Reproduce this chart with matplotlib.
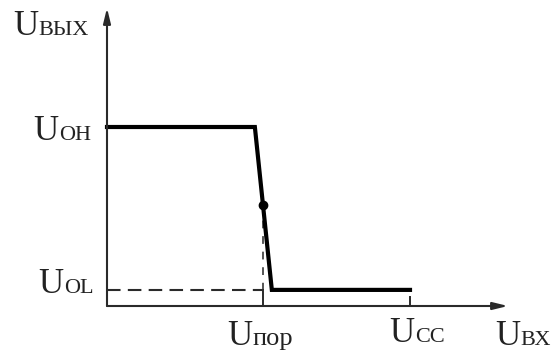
import matplotlib
matplotlib.use('Agg')
import matplotlib.pyplot as plt

plt.rcParams['font.family'] = ['Liberation Serif', 'DejaVu Serif']

# characteristic of the inverter (arbitrary units)
u_in = [0.0, 2.44, 2.72, 5.0]
u_out = [4.0, 4.0, 0.36, 0.36]
U_OH = 4.0
U_OL = 0.36
U_por = 2.57
U_por_out = 2.26
U_CC = 5.0

# pixel scale of the reference
sx = 60.6
sy = 44.75
x0, y0 = 107, 306
W, H = 551, 362

fig = plt.figure(figsize=(W / 100, H / 100), dpi=100)
ax = fig.add_axes([0, 0, 1, 1])
ax.set_xlim(-x0 / sx, (W - x0) / sx)
ax.set_ylim(-(H - y0) / sy, y0 / sy)
ax.axis('off')

axis_col = '#2a2a2a'
# axes with arrows
ax.annotate('', xy=(0, (y0 - 8) / sy), xytext=(0, 0),
            arrowprops=dict(arrowstyle='-|>,head_length=0.9,head_width=0.22',
                            lw=1.5, color=axis_col, shrinkA=0, shrinkB=0))
ax.annotate('', xy=((508 - x0) / sx, 0), xytext=(0, 0),
            arrowprops=dict(arrowstyle='-|>,head_length=0.9,head_width=0.22',
                            lw=1.5, color=axis_col, shrinkA=0, shrinkB=0))

# dashed guides
ax.plot([0, U_por], [U_OL, U_OL], color=axis_col, lw=1.5, dashes=(6.5, 3.5))
ax.plot([U_por, U_por], [U_por_out, U_OL], color='#555555', lw=1.4, dashes=(4, 4))
# ticks
ax.plot([U_por, U_por], [0, U_OL], color=axis_col, lw=1.4)
ax.plot([U_CC, U_CC], [0, 0.2], color=axis_col, lw=1.4)

# transfer characteristic
ax.plot(u_in, u_out, color='black', lw=3.0, solid_joinstyle='miter')
ax.plot([U_por], [U_por_out], 'o', color='black', ms=6)


def label(x, y, sub, size=16):
    t = ax.text(x, y, 'U', fontsize=25, color='#222222', ha='left', va='baseline')
    ax.annotate(sub, xy=(1, 0), xycoords=t, xytext=(0.5, 2.5),
                textcoords='offset points', fontsize=size, color='#222222',
                ha='left', va='bottom')


def px(x, y):
    return (x - x0) / sx, (y0 - y) / sy


label(*px(13, 35), 'ВЫХ')
label(*px(33, 140), 'OH')
label(*px(38, 293), 'OL')
label(*px(227, 345), 'пор', size=19)
label(*px(389, 342), 'CC')
label(*px(495, 345), 'ВХ')

fig.savefig('out.png', dpi=100)
